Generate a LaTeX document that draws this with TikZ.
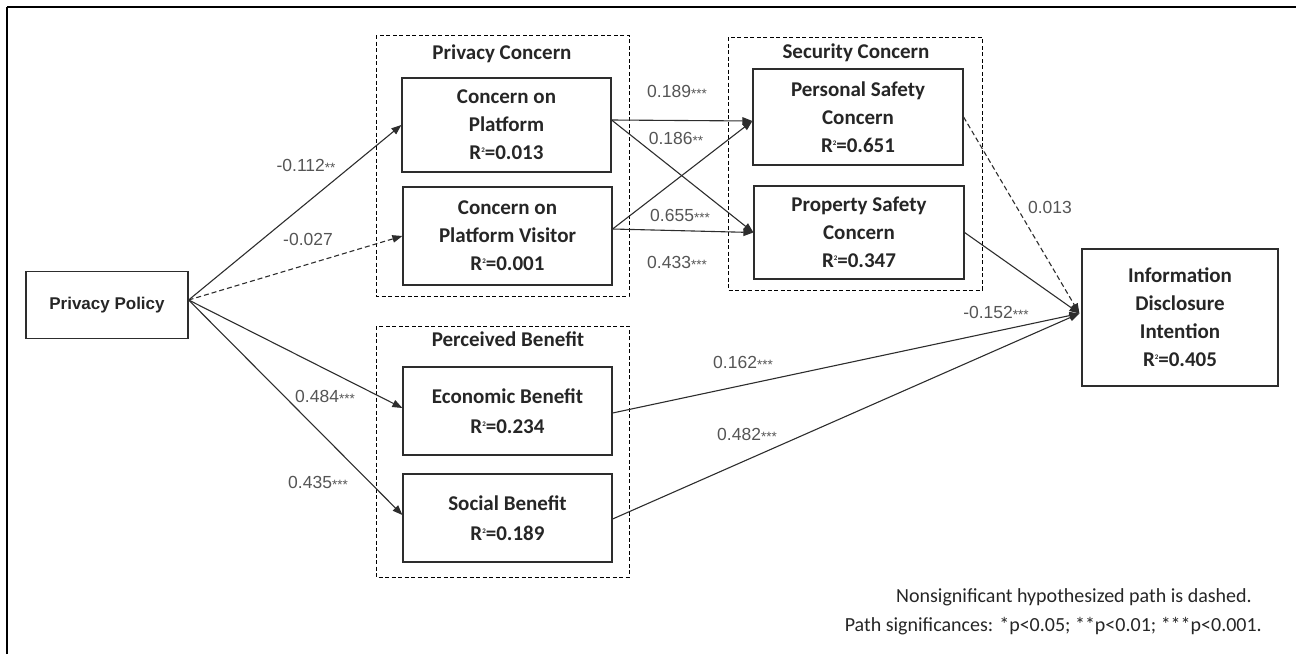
\documentclass[tikz,border=0pt]{standalone}
\usepackage{fontspec}
\setmainfont{Carlito}
\newfontfamily\labfont{Liberation Sans}
\usetikzlibrary{arrows.meta,calc}
\definecolor{linec}{RGB}{45,45,45}
\definecolor{labc}{RGB}{85,85,85}
\newcommand\rtwo{R\raisebox{7pt}{\fontsize{7}{7}\selectfont 2}}
\newcommand\sig[1]{\raisebox{-1.5pt}{\fontsize{13.5}{13.5}\selectfont #1}}
\tikzset{
  var/.style={draw=linec, line width=1.2pt, fill=white, align=center, inner sep=0pt,
    font=\bfseries\fontsize{21}{28}\selectfont, text=black!85},
  grp/.style={draw=black, line width=1pt, dash pattern=on 4pt off 2.5pt},
  grptitle/.style={font=\bfseries\fontsize{21}{24}\selectfont, text=black!85, inner sep=0pt},
  path/.style={draw=linec, line width=1.1pt, -{Triangle[length=10pt,width=7.5pt]}},
  nspath/.style={path, dash pattern=on 5pt off 3pt},
  plain/.style={draw=linec, line width=1.1pt},
  lab/.style={font=\labfont\fontsize{17.5}{17.5}\selectfont, text=labc, inner sep=0pt},
  foot/.style={font=\fontsize{20}{20}\selectfont, text=black!85, inner sep=0pt, anchor=east}
}
\begin{document}
\begin{tikzpicture}[x=1pt,y=-1pt]
\useasboundingbox (0,0) rectangle (1296,654);
% outer frame
\draw[line width=2.2pt] (7,654) -- (7,7);
\draw[line width=1.3pt] (7,7) -- (1290,7);
\draw[line width=2.6pt] (7,7) -- (22,7);
\draw[line width=2.6pt] (1283,7) -- (1296,7);
% groups
\draw[grp] (376,35) rectangle (629,296);
\draw[grp] (728,37) rectangle (982,290);
\draw[grp] (376,326) rectangle (629,577);
\node[grptitle] (tpc) at (502,54) {Privacy Concern};
\node[grptitle] (tsc) at (856,53) {Security Concern};
\node[grptitle] (tpb) at (508,339) {Perceived Benefit};
% variables
\node[var, minimum width=162pt, minimum height=67pt, font=\labfont\bfseries\fontsize{17}{20}\selectfont] (pp) at (107,305) {Privacy Policy};
\node[var, minimum width=209pt, minimum height=94pt] (cp) at (506.5,125) {Concern on\\Platform\\\rtwo=0.013};
\node[var, minimum width=209pt, minimum height=98pt] (cv) at (507.5,236) {Concern on\\Platform Visitor\\\rtwo=0.001};
\node[var, minimum width=209pt, minimum height=88pt, font=\bfseries\fontsize{21}{30}\selectfont] (eb) at (507.5,411) {Economic Benefit\\\rtwo=0.234};
\node[var, minimum width=209pt, minimum height=88pt, font=\bfseries\fontsize{21}{30}\selectfont] (sb) at (507.5,518) {Social Benefit\\\rtwo=0.189};
\node[var, minimum width=210pt, minimum height=96pt] (ps) at (858,117) {Personal Safety\\Concern\\\rtwo=0.651};
\node[var, minimum width=210pt, minimum height=93pt] (pr) at (859,232.5) {Property Safety\\Concern\\\rtwo=0.347};
\node[var, minimum width=196pt, minimum height=137pt] (info) at (1180,317.5) {Information\\Disclosure\\Intention\\\rtwo=0.405};
% connection points
\coordinate (ppo) at ($(pp.east)+(0,-5)$);
\coordinate (cpo) at ($(cp.east)+(0,-5)$);
\coordinate (cvo) at ($(cv.east)+(0,-7)$);
\coordinate (psi) at ($(ps.west)+(0,4)$);
\coordinate (ini) at ($(info.west)+(-2,-4)$);
% paths
\draw[path] (ppo) -- (cp.west);
\draw[nspath] (ppo) -- (cv.west);
\draw[path] (ppo) -- ($(eb.west)+(0,-3)$);
\draw[path] (ppo) -- ($(sb.west)+(0,-3)$);
\draw[path] (cpo) -- (psi);
\draw[path] (cpo) -- (pr.west);
\draw[path] (cvo) -- (psi);
\draw[path] (cvo) -- (pr.west);
\draw[nspath] (ps.east) -- (ini);
\draw[path] (pr.east) -- (ini);
\draw[path] ($(eb.east)+(0,2)$) -- (ini);
\draw[path] ($(sb.east)+(0,1)$) -- (ini);
% labels
\node[lab] (l1) at (306,166) {-0.112\sig{**}};
\node[lab] (l2) at (308,239) {-0.027};
\node[lab] (l3) at (325,397) {0.484\sig{***}};
\node[lab] (l4) at (318,483) {0.435\sig{***}};
\node[lab] (l5) at (677,92) {0.189\sig{***}};
\node[lab] (l6) at (676,139) {0.186\sig{**}};
\node[lab] (l7) at (680,216) {0.655\sig{***}};
\node[lab] (l8) at (677,263) {0.433\sig{***}};
\node[lab] (l9) at (1050,207) {0.013};
\node[lab] (l10) at (996,313) {-0.152\sig{***}};
\node[lab] (l11) at (743,363) {0.162\sig{***}};
\node[lab] (l12) at (747,435) {0.482\sig{***}};
% footnotes
\node[foot] (f1) at (1252,597) {Nonsignificant hypothesized path is dashed.};
\node[foot] (f2) at (1262,626) {Path significances: *p<0.05; **p<0.01; ***p<0.001.};
\end{tikzpicture}
\end{document}
